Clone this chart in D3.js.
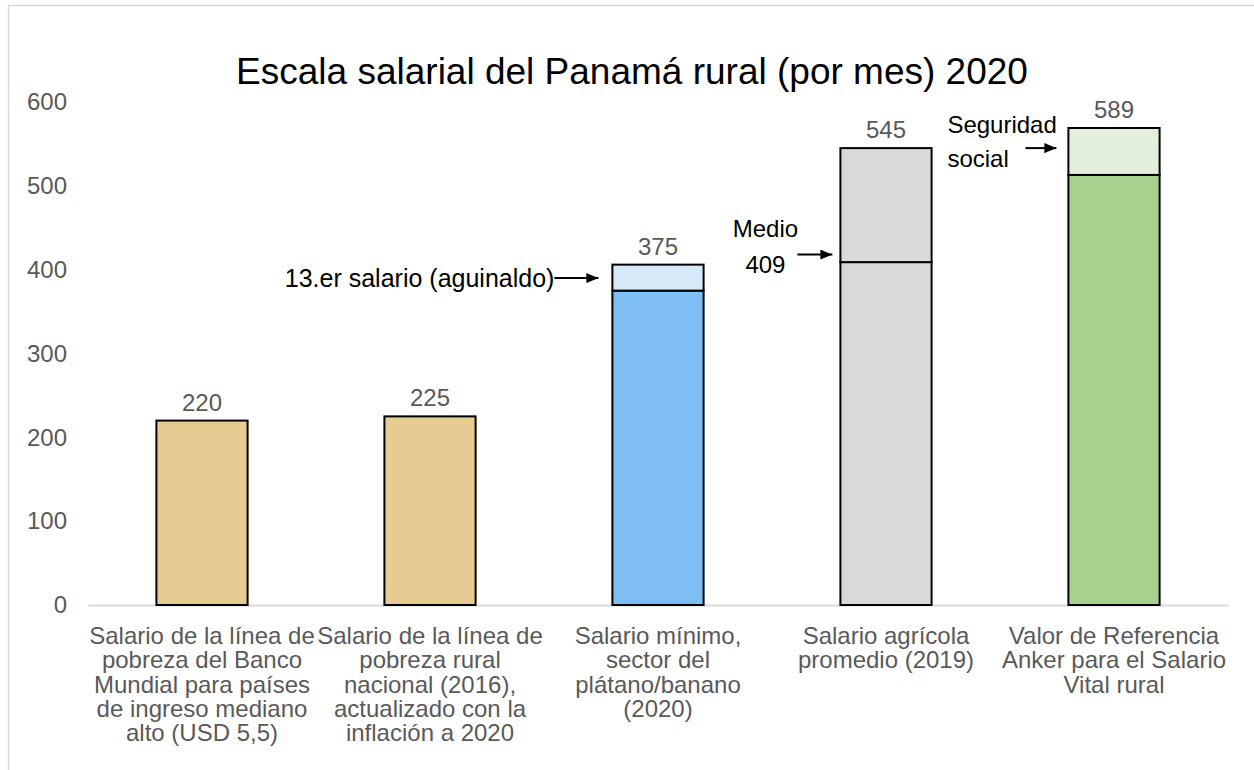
<!DOCTYPE html>
<html>
<head>
<meta charset="utf-8">
<script src="https://cdn.jsdelivr.net/npm/d3@7"></script>
<style>
  body { margin: 0; background: #fff; }
  svg { display: block; font-family: "Liberation Sans", Arial, sans-serif; }
</style>
</head>
<body>
<svg class="chart"></svg>
<script>
// data
const categories = ['linea_bm', 'linea_nac', 'minimo', 'agricola', 'anker'];
const categoryLines = [
	['Salario de la línea de', 'pobreza del Banco', 'Mundial para países', 'de ingreso mediano', 'alto (USD 5,5)'],
	['Salario de la línea de', 'pobreza rural', 'nacional (2016),', 'actualizado con la', 'inflación a 2020'],
	['Salario mínimo,', 'sector del', 'plátano/banano', '(2020)'],
	['Salario agrícola', 'promedio (2019)'],
	['Valor de Referencia', 'Anker para el Salario', 'Vital rural']
];
const baseValues = [220, 225, 375, 409, 513];
const topValues = [null, null, 406, 545, 569];
const valueLabels = ['220', '225', '375', '545', '589'];
const baseColors = ['#E6CB93', '#E6CB93', '#7FBEF2', '#D9D9D9', '#A9D18E'];
const topColors = [null, null, '#D6E9F9', '#D9D9D9', '#E2EFDA'];
const yTicks = [0, 100, 200, 300, 400, 500, 600];

const annoLines = [['13.er salario (aguinaldo)'], ['Medio', '409'], ['Seguridad', 'social']];
const annoCategory = ['minimo', 'agricola', 'anker'];
const annoValue = [390, 418, 545];

const svg = d3.select('.chart')
	.attr('width', 1254)
	.attr('height', 770);

let margin = { top: 102, left: 88, right: 26, bottom: 165 },
	innerWidth = 1254 - margin.left - margin.right,
	innerHeight = 770 - margin.top - margin.bottom;

// frame (only top/left edges show)
svg.append('rect')
	.attr('x', 8.5).attr('y', 5.5)
	.attr('width', 1400).attr('height', 900)
	.attr('fill', 'none')
	.attr('stroke', '#D9D9D9')
	.attr('stroke-width', 1.5);

svg.append('text')
	.attr('x', 632)
	.attr('y', 84)
	.attr('text-anchor', 'middle')
	.attr('font-size', 37)
	.attr('fill', '#000')
	.text('Escala salarial del Panamá rural (por mes) 2020');

const defs = svg.append('defs');
defs.append('marker')
	.attr('id', 'arrow')
	.attr('viewBox', '0 0 12 10')
	.attr('refX', 12).attr('refY', 5)
	.attr('markerWidth', 12).attr('markerHeight', 10)
	.attr('markerUnits', 'userSpaceOnUse')
	.attr('orient', 'auto')
	.append('path')
	.attr('d', 'M0,0L12,5L0,10Z')
	.attr('fill', '#000');

const g = svg.append('g')
	.attr('transform', `translate(${margin.left}, ${margin.top})`);

const xScale = d3.scaleBand()
	.domain(categories)
	.range([0, innerWidth])
	.paddingInner(0.6)
	.paddingOuter(0.3);

const yScale = d3.scaleLinear()
	.domain([0, 600])
	.range([innerHeight, 0]);

const yAxis = d3.axisLeft(yScale)
	.tickValues(yTicks)
	.tickSize(0)
	.tickPadding(21);
const yAxisG = g.append('g').call(yAxis);
yAxisG.select('.domain').remove();
yAxisG.selectAll('text')
	.attr('font-size', 24)
	.attr('font-family', '"Liberation Sans", Arial, sans-serif')
	.attr('fill', '#595959');

const xAxis = d3.axisBottom(xScale)
	.tickSize(0)
	.tickSizeOuter(0)
	.tickFormat('');
const xAxisG = g.append('g').call(xAxis)
	.attr('transform', `translate(0, ${innerHeight})`);
xAxisG.select('.domain')
	.attr('stroke', '#D9D9D9')
	.attr('stroke-width', 2);
xAxisG.selectAll('.tick text').remove();
xAxisG.selectAll('.tick').each(function(d, i) {
	const t = d3.select(this).append('text')
		.attr('text-anchor', 'middle')
		.attr('font-size', 24)
		.attr('font-family', '"Liberation Sans", Arial, sans-serif')
		.attr('fill', '#595959');
	categoryLines[i].forEach((line, j) => {
		t.append('tspan')
			.attr('x', 0)
			.attr('y', 39 + j * 24.3)
			.text(line);
	});
});

const rows = categories.map((c, i) => ({
	cat: c, base: baseValues[i], top: topValues[i],
	label: valueLabels[i], baseColor: baseColors[i], topColor: topColors[i]
}));

// base segments
g.selectAll('rect.base')
	.data(rows)
	.enter().append('rect')
	.attr('class', 'base')
	.attr('x', d => xScale(d.cat))
	.attr('y', d => yScale(d.base))
	.attr('width', xScale.bandwidth())
	.attr('height', d => yScale(0) - yScale(d.base))
	.attr('fill', d => d.baseColor)
	.attr('stroke', '#000')
	.attr('stroke-width', 2);

// upper segments
g.selectAll('rect.upper')
	.data(rows.filter(d => d.top != null))
	.enter().append('rect')
	.attr('class', 'upper')
	.attr('x', d => xScale(d.cat))
	.attr('y', d => yScale(d.top))
	.attr('width', xScale.bandwidth())
	.attr('height', d => yScale(d.base) - yScale(d.top))
	.attr('fill', d => d.topColor)
	.attr('stroke', '#000')
	.attr('stroke-width', 2);

// value labels
g.selectAll('text.value')
	.data(rows)
	.enter().append('text')
	.attr('class', 'value')
	.attr('x', d => xScale(d.cat) + xScale.bandwidth() / 2)
	.attr('y', d => yScale(d.top != null ? d.top : d.base) - 10)
	.attr('text-anchor', 'middle')
	.attr('font-size', 24)
	.attr('fill', '#595959')
	.text(d => d.label);

// annotations with arrows
const arrowLen = [48, 39, 35];
const arrowGap = [10, 4, 8];
annoLines.forEach((lines, i) => {
	const x1 = xScale(annoCategory[i]) - arrowGap[i];
	const x0 = x1 - arrowLen[i];
	const ay = yScale(annoValue[i]);
	g.append('line')
		.attr('x1', x0).attr('x2', x1 - 4)
		.attr('y1', ay).attr('y2', ay)
		.attr('stroke', '#000')
		.attr('stroke-width', 2)
		.attr('marker-end', 'url(#arrow)');

	const t = g.append('text')
		.attr('font-size', 24)
		.attr('fill', '#000');
	if (i === 0) {
		t.attr('text-anchor', 'end')
			.attr('font-size', 25)
			.append('tspan').attr('x', x0).attr('y', ay + 9).text(lines[0]);
	} else if (i === 1) {
		t.attr('text-anchor', 'middle');
		t.append('tspan').attr('x', x0 - 32).attr('y', ay - 18).text(lines[0]);
		t.append('tspan').attr('x', x0 - 32).attr('y', ay + 18).text(lines[1]);
	} else {
		t.attr('text-anchor', 'start');
		t.append('tspan').attr('x', x0 - 78).attr('y', ay - 15).text(lines[0]);
		t.append('tspan').attr('x', x0 - 78).attr('y', ay + 19).text(lines[1]);
	}
});
</script>
</body>
</html>
